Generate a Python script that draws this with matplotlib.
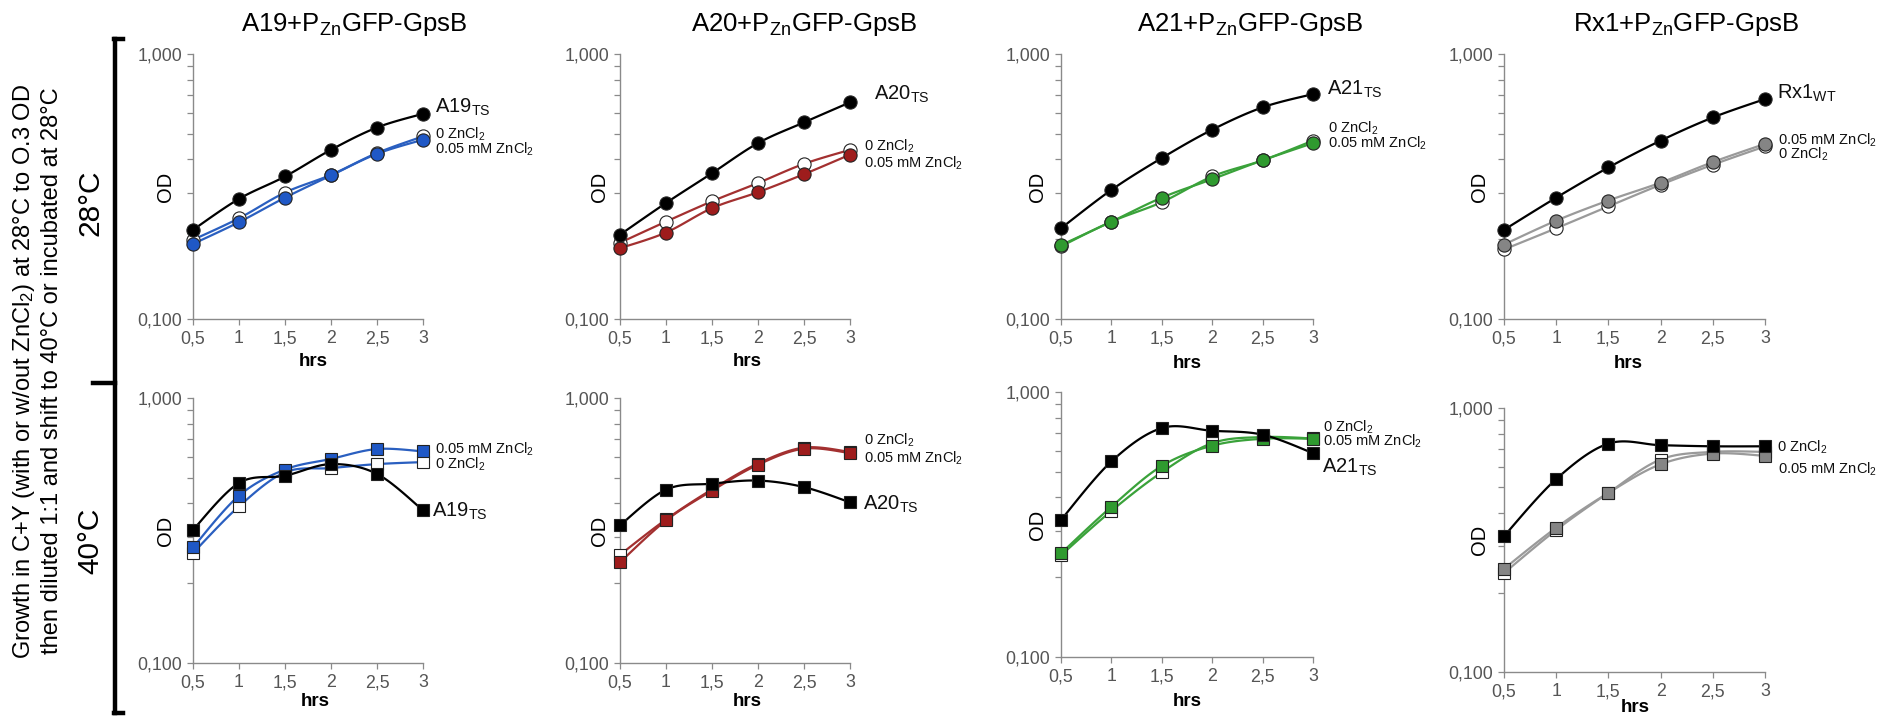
import numpy as np
import matplotlib
matplotlib.use('Agg')
import matplotlib.pyplot as plt
from matplotlib.ticker import FixedLocator, NullFormatter, FixedFormatter

plt.rcParams['font.family'] = ['Liberation Sans', 'DejaVu Sans']
plt.rcParams['mathtext.fontset'] = 'custom'
plt.rcParams['mathtext.rm'] = 'Liberation Sans'
plt.rcParams['mathtext.it'] = 'Liberation Sans:italic'
plt.rcParams['mathtext.bf'] = 'Liberation Sans:bold'

# ---------------- data ----------------
hrs = [0.5, 1, 1.5, 2, 2.5, 3]
xtick_labels = ['0,5', '1', '1,5', '2', '2,5', '3']
ytick_values = [0.1, 1.0]
ytick_labels = ['0,100', '1,000']
strains = ['A19', 'A20', 'A21', 'Rx1']

# 28 °C
a19_28_ts = [0.217, 0.284, 0.345, 0.435, 0.528, 0.595]
a19_28_zn0 = [0.199, 0.240, 0.300, 0.350, 0.423, 0.489]
a19_28_zn05 = [0.192, 0.232, 0.287, 0.348, 0.420, 0.475]
a20_28_ts = [0.208, 0.274, 0.355, 0.461, 0.552, 0.657]
a20_28_zn0 = [0.194, 0.233, 0.278, 0.326, 0.385, 0.435]
a20_28_zn05 = [0.185, 0.212, 0.262, 0.301, 0.352, 0.417]
a21_28_ts = [0.220, 0.307, 0.405, 0.518, 0.629, 0.706]
a21_28_zn0 = [0.188, 0.233, 0.276, 0.345, 0.397, 0.471]
a21_28_zn05 = [0.190, 0.233, 0.287, 0.337, 0.397, 0.461]
rx1_28_wt = [0.217, 0.287, 0.373, 0.471, 0.576, 0.676]
rx1_28_zn0 = [0.183, 0.220, 0.266, 0.321, 0.382, 0.448]
rx1_28_zn05 = [0.191, 0.235, 0.280, 0.327, 0.391, 0.458]

# 40 °C
a19_40_ts = [0.318, 0.478, 0.509, 0.563, 0.517, 0.377]
a19_40_zn0 = [0.260, 0.390, 0.524, 0.544, 0.563, 0.573]
a19_40_zn05 = [0.273, 0.428, 0.537, 0.589, 0.642, 0.629]
a20_40_ts = [0.331, 0.451, 0.475, 0.488, 0.461, 0.404]
a20_40_zn0 = [0.256, 0.348, 0.452, 0.566, 0.650, 0.626]
a20_40_zn05 = [0.240, 0.345, 0.447, 0.560, 0.644, 0.620]
a21_40_ts = [0.329, 0.547, 0.731, 0.714, 0.690, 0.588]
a21_40_zn0 = [0.242, 0.356, 0.498, 0.641, 0.676, 0.668]
a21_40_zn05 = [0.246, 0.369, 0.526, 0.627, 0.666, 0.666]
rx1_40_wt = [0.327, 0.538, 0.733, 0.723, 0.716, 0.716]
rx1_40_zn0 = [0.237, 0.345, 0.477, 0.638, 0.682, 0.682]
rx1_40_zn05 = [0.246, 0.352, 0.477, 0.612, 0.672, 0.659]

colors = ['#1f58c6', '#9e1c1c', '#2f9a2f', '#858585']
line_colors = ['#2a5fc0', '#a33030', '#3aa23a', '#9a9a9a']

top_series = [(a19_28_ts, a19_28_zn0, a19_28_zn05), (a20_28_ts, a20_28_zn0, a20_28_zn05),
              (a21_28_ts, a21_28_zn0, a21_28_zn05), (rx1_28_wt, rx1_28_zn0, rx1_28_zn05)]
bot_series = [(a19_40_ts, a19_40_zn0, a19_40_zn05), (a20_40_ts, a20_40_zn0, a20_40_zn05),
              (a21_40_ts, a21_40_zn0, a21_40_zn05), (rx1_40_wt, rx1_40_zn0, rx1_40_zn05)]

W, H = 1879, 717
fig = plt.figure(figsize=(W / 100, H / 100), dpi=100)


def fx(x):
    return x / W


def fy(y):
    return 1 - y / H


def rect(x0, x1, yt, yb):
    return [x0 / W, 1 - yb / H, (x1 - x0) / W, (yb - yt) / H]


def smooth(x, y, n=20):
    # Excel-like smoothed line (Catmull-Rom Bezier) in log-y space
    x = np.asarray(x, float)
    ly = np.log10(np.asarray(y, float))
    P = np.column_stack([x, ly])
    out = [P[0]]
    for i in range(len(P) - 1):
        p0 = P[i - 1] if i > 0 else P[i]
        p1 = P[i]
        p2 = P[i + 1]
        p3 = P[i + 2] if i + 2 < len(P) else P[i + 1]
        c1 = p1 + (p2 - p0) / 6
        c2 = p2 - (p3 - p1) / 6
        t = np.linspace(0, 1, n)[1:, None]
        seg = (1 - t) ** 3 * p1 + 3 * (1 - t) ** 2 * t * c1 + 3 * (1 - t) * t ** 2 * c2 + t ** 3 * p2
        out.extend(seg)
    out = np.array(out)
    return out[:, 0], 10 ** out[:, 1]


top_rects = [(193, 423, 54, 319), (620, 850, 54, 319), (1061, 1313, 54, 319), (1504, 1765, 54, 319)]
bot_rects = [(193, 423, 398, 663), (620, 850, 398, 663), (1061, 1313, 392, 657), (1504, 1765, 408, 672)]

axis_grey = '#8a8a8a'


def style_axes(ax):
    ax.set_yscale('log')
    ax.set_xlim(0.5, 3)
    ax.set_ylim(0.1, 1.0)
    for s in ['top', 'right']:
        ax.spines[s].set_visible(False)
    for s in ['left', 'bottom']:
        ax.spines[s].set_color(axis_grey)
        ax.spines[s].set_linewidth(1.0)
    ax.xaxis.set_major_locator(FixedLocator(hrs))
    ax.xaxis.set_major_formatter(FixedFormatter(xtick_labels))
    ax.yaxis.set_major_locator(FixedLocator(ytick_values))
    ax.yaxis.set_major_formatter(FixedFormatter(ytick_labels))
    ax.yaxis.set_minor_locator(FixedLocator([0.2, 0.3, 0.4, 0.5, 0.6, 0.7, 0.8, 0.9]))
    ax.yaxis.set_minor_formatter(NullFormatter())
    ax.tick_params(axis='both', which='both', direction='out', color=axis_grey,
                   labelcolor='#555555', labelsize=12.8, length=4, width=0.9)
    ax.tick_params(axis='x', pad=4)
    ax.tick_params(axis='y', pad=4)


def draw(ax, series, i, marker):
    ts, zn0, zn05 = series
    col = colors[i]
    lc = line_colors[i]
    ms = 9.5 if marker == 'o' else 8.8
    for data, fc, lcol in [(zn0, 'white', lc), (zn05, col, lc), (ts, 'black', 'black')]:
        sx, sy = smooth(hrs, data)
        ax.plot(sx, sy, color=lcol, lw=1.6, clip_on=False, zorder=2)
        ax.plot(hrs, data, ls='none', marker=marker, ms=ms, mfc=fc, mec='#222222',
                mew=0.8, clip_on=False, zorder=3)


for i in range(4):
    ax = fig.add_axes(rect(*top_rects[i]))
    style_axes(ax)
    draw(ax, top_series[i], i, 'o')
    ax2 = fig.add_axes(rect(*bot_rects[i]))
    style_axes(ax2)
    draw(ax2, bot_series[i], i, 's')

# titles
title_x = [354, 804, 1250, 1686]
for i, s in enumerate(strains):
    fig.text(fx(title_x[i]), fy(25), s + r'+P$_{\mathrm{Zn}}$GFP-GpsB', ha='center', va='center',
             fontsize=18.5)

# OD labels
od_x = [165, 600, 1038, 1480]
for i in range(4):
    yt = (top_rects[i][2] + top_rects[i][3]) / 2
    yb = (bot_rects[i][2] + bot_rects[i][3]) / 2
    for y in (yt, yb):
        fig.text(fx(od_x[i]), fy(y), 'OD', rotation=90, ha='center', va='center', fontsize=14.5)

# hrs labels
hrs_top = [(313, 361), (747, 361), (1187, 363), (1628, 364)]
hrs_bot = [(315, 702), (747, 702), (1187, 702), (1635, 707)]
for (x, y) in hrs_top + hrs_bot:
    fig.text(fx(x), fy(y), 'hrs', ha='center', va='center', fontsize=13.5, fontweight='bold')

zn0 = r'0 ZnCl$_{\mathrm{2}}$'
zn05 = r'0.05 mM ZnCl$_{\mathrm{2}}$'
small = 10.5
big = 14.5
labels = [
    # top row
    (435, 107, r'A19$_{\mathrm{TS}}$', big), (435, 134, zn0, small), (435, 149, zn05, small),
    (874, 94, r'A20$_{\mathrm{TS}}$', big), (864, 146, zn0, small), (864, 163, zn05, small),
    (1327, 89, r'A21$_{\mathrm{TS}}$', big), (1328, 128, zn0, small), (1328, 143, zn05, small),
    (1777, 93, r'Rx1$_{\mathrm{WT}}$', big), (1778, 140, zn05, small), (1778, 154, zn0, small),
    # bottom row
    (435, 449, zn05, small), (435, 464, zn0, small), (432, 511, r'A19$_{\mathrm{TS}}$', big),
    (864, 440, zn0, small), (864, 458, zn05, small), (863, 504, r'A20$_{\mathrm{TS}}$', big),
    (1323, 427, zn0, small), (1323, 441, zn05, small), (1322, 467, r'A21$_{\mathrm{TS}}$', big),
    (1777, 447, zn0, small), (1778, 469, zn05, small),
]
for x, y, t, fs in labels:
    fig.text(fx(x), fy(y), t, ha='left', va='center', fontsize=fs, color='#111111')

# temperature labels
fig.text(fx(90), fy(203), '28°C', rotation=90, ha='center', va='center', fontsize=21.5)
fig.text(fx(90), fy(541), '40°C', rotation=90, ha='center', va='center', fontsize=21.5)

# overall description
fig.text(fx(24), fy(371), r'Growth in C+Y (with or w/out ZnCl$_{\mathrm{2}}$) at 28°C to O.3 OD',
         rotation=90, ha='center', va='center', fontsize=17)
fig.text(fx(52), fy(371), 'then diluted 1:1 and shift to 40°C or incubated at 28°C',
         rotation=90, ha='center', va='center', fontsize=17)

# bracket
bx = 115
fig.add_artist(plt.Line2D([fx(bx), fx(bx)], [fy(39), fy(713)], color='black', lw=3.2))
fig.add_artist(plt.Line2D([fx(bx - 1.5), fx(bx + 8)], [fy(39), fy(39)], color='black', lw=3.2))
fig.add_artist(plt.Line2D([fx(bx - 1.5), fx(bx + 8)], [fy(713), fy(713)], color='black', lw=3.2))
fig.add_artist(plt.Line2D([fx(93), fx(bx)], [fy(383), fy(383)], color='black', lw=3.2))

fig.savefig('out.png', dpi=100, facecolor='white')
